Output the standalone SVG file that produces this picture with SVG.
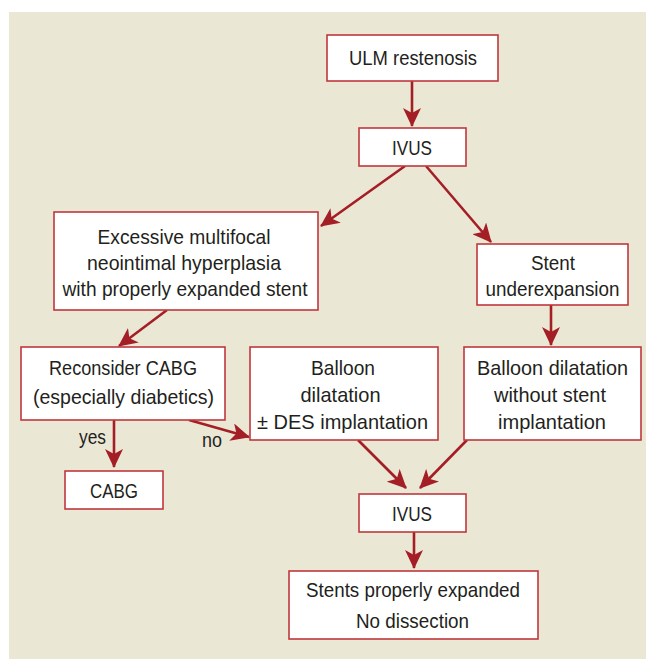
<svg xmlns="http://www.w3.org/2000/svg" width="646" height="659" viewBox="0 0 646 659">
<style>
.box{fill:#ffffff;stroke:#c0373e;stroke-width:1.6}
.t{font-family:"Liberation Sans",Arial,sans-serif;font-size:21px;fill:#231f20;text-anchor:middle}
.c{fill:none;stroke:#a41e26;stroke-width:2.6}
</style>
<defs>
<marker id="ah" markerUnits="userSpaceOnUse" markerWidth="20" markerHeight="18" viewBox="0 0 20 18" refX="18" refY="9" orient="auto">
<path d="M0,0 L19,9 L0,18 L5,9 z" fill="#a41e26"/>
</marker>
</defs>
<rect x="9" y="12" width="637" height="647" fill="#ebe7d5"/>
<g id="connectors">
<line class="c" x1="412" y1="81" x2="412" y2="126" marker-end="url(#ah)"/>
<line class="c" x1="405" y1="166" x2="321" y2="226" marker-end="url(#ah)"/>
<line class="c" x1="426" y1="166" x2="491" y2="242" marker-end="url(#ah)"/>
<line class="c" x1="551" y1="305" x2="551" y2="345" marker-end="url(#ah)"/>
<line class="c" x1="167" y1="310" x2="119" y2="346" marker-end="url(#ah)"/>
<line class="c" x1="114" y1="420" x2="114" y2="467" marker-end="url(#ah)"/>
<line class="c" x1="189" y1="420" x2="249" y2="437" marker-end="url(#ah)"/>
<line class="c" x1="358" y1="440" x2="406" y2="488" marker-end="url(#ah)"/>
<line class="c" x1="467" y1="440" x2="420" y2="488" marker-end="url(#ah)"/>
<line class="c" x1="414" y1="532" x2="414" y2="568" marker-end="url(#ah)"/>
<text class="t" x="92.5" y="444" textLength="27" lengthAdjust="spacingAndGlyphs">yes</text>
<text class="t" x="212" y="447" textLength="20" lengthAdjust="spacingAndGlyphs">no</text>
</g>
<g id="ulm"><rect class="box" x="327" y="35" width="171" height="46"/><text class="t" x="413" y="65" textLength="128" lengthAdjust="spacingAndGlyphs">ULM restenosis</text></g>
<g id="ivus1"><rect class="box" x="359" y="128" width="107" height="38"/><text class="t" x="412" y="155" textLength="40" lengthAdjust="spacingAndGlyphs">IVUS</text></g>
<g id="excessive"><rect class="box" x="54" y="212" width="264" height="98"/>
<text class="t" x="184" y="244" textLength="173" lengthAdjust="spacingAndGlyphs">Excessive multifocal</text>
<text class="t" x="184" y="270" textLength="194" lengthAdjust="spacingAndGlyphs">neointimal hyperplasia</text>
<text class="t" x="185" y="296" textLength="245" lengthAdjust="spacingAndGlyphs">with properly expanded stent</text></g>
<g id="underexp"><rect class="box" x="477" y="244" width="151" height="61"/>
<text class="t" x="553" y="270" textLength="44" lengthAdjust="spacingAndGlyphs">Stent</text>
<text class="t" x="552.5" y="296" textLength="134" lengthAdjust="spacingAndGlyphs">underexpansion</text></g>
<g id="reconsider"><rect class="box" x="21" y="347" width="204" height="73"/>
<text class="t" x="123" y="375" textLength="148" lengthAdjust="spacingAndGlyphs">Reconsider CABG</text>
<text class="t" x="123.5" y="404" textLength="181" lengthAdjust="spacingAndGlyphs">(especially diabetics)</text></g>
<g id="balloon-des"><rect class="box" x="250" y="347" width="188" height="93"/>
<text class="t" x="343" y="375" textLength="64" lengthAdjust="spacingAndGlyphs">Balloon</text>
<text class="t" x="340.5" y="402" textLength="80" lengthAdjust="spacingAndGlyphs">dilatation</text>
<text class="t" x="342.5" y="429" textLength="171" lengthAdjust="spacingAndGlyphs">± DES implantation</text></g>
<g id="balloon-nostent"><rect class="box" x="464" y="347" width="177" height="93"/>
<text class="t" x="552.5" y="375" textLength="151" lengthAdjust="spacingAndGlyphs">Balloon dilatation</text>
<text class="t" x="550" y="402" textLength="112" lengthAdjust="spacingAndGlyphs">without stent</text>
<text class="t" x="552" y="429" textLength="108" lengthAdjust="spacingAndGlyphs">implantation</text></g>
<g id="cabg"><rect class="box" x="65" y="471" width="98" height="38"/><text class="t" x="114" y="498" textLength="48" lengthAdjust="spacingAndGlyphs">CABG</text></g>
<g id="ivus2"><rect class="box" x="359" y="494" width="107" height="38"/><text class="t" x="412" y="521" textLength="40" lengthAdjust="spacingAndGlyphs">IVUS</text></g>
<g id="stents"><rect class="box" x="289" y="571" width="249" height="68"/>
<text class="t" x="413" y="597" textLength="214" lengthAdjust="spacingAndGlyphs">Stents properly expanded</text>
<text class="t" x="412.5" y="628" textLength="113" lengthAdjust="spacingAndGlyphs">No dissection</text></g>
</svg>
